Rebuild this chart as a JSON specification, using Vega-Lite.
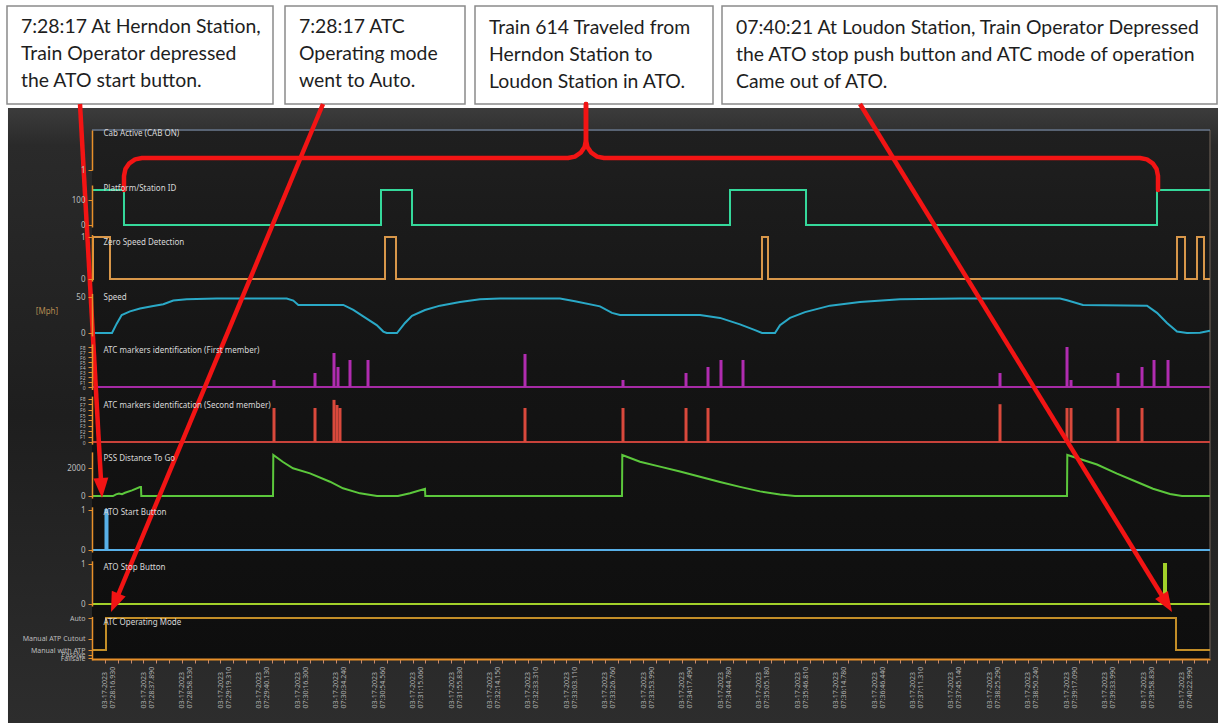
{
  "$schema": "https://vega.github.io/schema/vega-lite/v6.json",
  "width": 1222,
  "height": 723,
  "autosize": "none",
  "padding": 0,
  "background": "#ffffff",
  "config": {
    "view": {"stroke": null},
    "font": "Noto Sans",
    "axis": {
      "domainColor": "#e8902a", "domainWidth": 1.5, "tickColor": "#e8902a", "tickSize": 4, "tickWidth": 1,
      "labelColor": "#bdbdbd", "labelFont": "Noto Sans", "labelFontSize": 8, "labelPadding": 3,
      "labelOverlap": false, "labelFlush": false, "labelBound": false, "grid": false,
      "titleColor": "#d8d8d8", "titleFont": "Noto Sans", "titleFontSize": 8, "titleFontWeight": "normal",
      "titleAngle": 0, "titleAlign": "left", "titleBaseline": "middle"
    }
  },
  "datasets": {
    "panes": [
      {"pane": "outer", "t": -7.569, "t2": 86.838, "p": 108, "p2": 723},
      {"pane": "plot", "t": -1.014, "t2": 86.213, "p": 129, "p2": 660},
      {"pane": "frame", "t": 86.213, "t2": 86.213, "p": 130, "p2": 658}
    ],
    "units": [{"t": -4.525, "p": 312, "unit": "[Mph]"}],
    "sig": [
      {"s": "cab", "t": -1.014, "v": 1}, {"s": "cab", "t": 86.213, "v": 1},
      {"s": "plat", "t": -1.014, "v": 140}, {"s": "plat", "t": 1.482, "v": 0}, {"s": "plat", "t": 21.534, "v": 140}, {"s": "plat", "t": 23.953, "v": 0},
      {"s": "plat", "t": 48.763, "v": 140}, {"s": "plat", "t": 54.693, "v": 0}, {"s": "plat", "t": 82.078, "v": 140}, {"s": "plat", "t": 86.213, "v": 140},
      {"s": "zsd", "t": -1.014, "v": 0}, {"s": "zsd", "t": -0.936, "v": 1}, {"s": "zsd", "t": 0.39, "v": 0}, {"s": "zsd", "t": 21.846, "v": 1},
      {"s": "zsd", "t": 22.704, "v": 0}, {"s": "zsd", "t": 51.26, "v": 1}, {"s": "zsd", "t": 51.728, "v": 0}, {"s": "zsd", "t": 83.639, "v": 1},
      {"s": "zsd", "t": 84.263, "v": 0}, {"s": "zsd", "t": 85.199, "v": 1}, {"s": "zsd", "t": 85.745, "v": 0}, {"s": "zsd", "t": 86.213, "v": 0},
      {"s": "speed", "t": -1.014, "v": 0}, {"s": "speed", "t": 0.546, "v": 0}, {"s": "speed", "t": 0.913, "v": 13}, {"s": "speed", "t": 1.303, "v": 25},
      {"s": "speed", "t": 1.951, "v": 30}, {"s": "speed", "t": 2.731, "v": 34}, {"s": "speed", "t": 3.768, "v": 37.5}, {"s": "speed", "t": 4.549, "v": 40},
      {"s": "speed", "t": 5.329, "v": 45}, {"s": "speed", "t": 6.374, "v": 47}, {"s": "speed", "t": 8.715, "v": 48}, {"s": "speed", "t": 14.177, "v": 48},
      {"s": "speed", "t": 14.692, "v": 45}, {"s": "speed", "t": 15.082, "v": 39}, {"s": "speed", "t": 18.593, "v": 39}, {"s": "speed", "t": 19.373, "v": 32},
      {"s": "speed", "t": 20.418, "v": 20}, {"s": "speed", "t": 21.198, "v": 11}, {"s": "speed", "t": 21.713, "v": 2}, {"s": "speed", "t": 21.979, "v": 0},
      {"s": "speed", "t": 22.782, "v": 0}, {"s": "speed", "t": 23.406, "v": 14}, {"s": "speed", "t": 23.953, "v": 24}, {"s": "speed", "t": 24.967, "v": 32},
      {"s": "speed", "t": 26.137, "v": 38}, {"s": "speed", "t": 27.698, "v": 43}, {"s": "speed", "t": 29.258, "v": 47}, {"s": "speed", "t": 30.818, "v": 48},
      {"s": "speed", "t": 35.5, "v": 48}, {"s": "speed", "t": 36.67, "v": 44}, {"s": "speed", "t": 38.62, "v": 37}, {"s": "speed", "t": 39.557, "v": 28},
      {"s": "speed", "t": 40.181, "v": 25}, {"s": "speed", "t": 46.423, "v": 25}, {"s": "speed", "t": 47.984, "v": 21}, {"s": "speed", "t": 49.544, "v": 12},
      {"s": "speed", "t": 50.714, "v": 4}, {"s": "speed", "t": 51.26, "v": 0}, {"s": "speed", "t": 52.274, "v": 0}, {"s": "speed", "t": 52.664, "v": 11},
      {"s": "speed", "t": 53.445, "v": 21}, {"s": "speed", "t": 54.615, "v": 29}, {"s": "speed", "t": 56.565, "v": 38}, {"s": "speed", "t": 58.906, "v": 43},
      {"s": "speed", "t": 62.027, "v": 47}, {"s": "speed", "t": 66.708, "v": 48}, {"s": "speed", "t": 74.511, "v": 48}, {"s": "speed", "t": 75.057, "v": 45.5},
      {"s": "speed", "t": 76.305, "v": 39}, {"s": "speed", "t": 81.298, "v": 38}, {"s": "speed", "t": 82.078, "v": 28}, {"s": "speed", "t": 82.859, "v": 14},
      {"s": "speed", "t": 83.639, "v": 2}, {"s": "speed", "t": 84.419, "v": 0}, {"s": "speed", "t": 85.433, "v": 0.5}, {"s": "speed", "t": 86.213, "v": 3},
      {"s": "atc1", "t": -1.014, "v": 0}, {"s": "atc1", "t": 86.213, "v": 0},
      {"s": "atc2", "t": -1.014, "v": 0}, {"s": "atc2", "t": 86.213, "v": 0},
      {"s": "pss", "t": -1.014, "v": 0}, {"s": "pss", "t": 0.624, "v": 0}, {"s": "pss", "t": 0.858, "v": 120}, {"s": "pss", "t": 1.092, "v": 180},
      {"s": "pss", "t": 1.326, "v": 130}, {"s": "pss", "t": 1.56, "v": 230}, {"s": "pss", "t": 2.107, "v": 400}, {"s": "pss", "t": 2.731, "v": 640},
      {"s": "pss", "t": 2.809, "v": 640}, {"s": "pss", "t": 2.832, "v": 0}, {"s": "pss", "t": 13.108, "v": 0}, {"s": "pss", "t": 13.132, "v": 2930},
      {"s": "pss", "t": 13.888, "v": 2430}, {"s": "pss", "t": 14.668, "v": 1980}, {"s": "pss", "t": 15.994, "v": 1620}, {"s": "pss", "t": 17.555, "v": 1020},
      {"s": "pss", "t": 18.569, "v": 550}, {"s": "pss", "t": 19.896, "v": 190}, {"s": "pss", "t": 21.222, "v": 0}, {"s": "pss", "t": 22.86, "v": 0},
      {"s": "pss", "t": 23.796, "v": 200}, {"s": "pss", "t": 24.967, "v": 520}, {"s": "pss", "t": 24.99, "v": 0}, {"s": "pss", "t": 40.337, "v": 0},
      {"s": "pss", "t": 40.36, "v": 2930}, {"s": "pss", "t": 41.741, "v": 2450}, {"s": "pss", "t": 43.302, "v": 2100}, {"s": "pss", "t": 44.862, "v": 1750},
      {"s": "pss", "t": 46.423, "v": 1380}, {"s": "pss", "t": 47.984, "v": 1000}, {"s": "pss", "t": 49.544, "v": 650}, {"s": "pss", "t": 51.104, "v": 330},
      {"s": "pss", "t": 52.664, "v": 100}, {"s": "pss", "t": 53.835, "v": 0}, {"s": "pss", "t": 75.057, "v": 0}, {"s": "pss", "t": 75.08, "v": 2930},
      {"s": "pss", "t": 76.305, "v": 2570}, {"s": "pss", "t": 77.398, "v": 2250}, {"s": "pss", "t": 78.958, "v": 1600}, {"s": "pss", "t": 80.518, "v": 1000},
      {"s": "pss", "t": 81.767, "v": 520}, {"s": "pss", "t": 83.093, "v": 140}, {"s": "pss", "t": 84.029, "v": 0}, {"s": "pss", "t": 86.213, "v": 0},
      {"s": "start", "t": -1.014, "v": 0}, {"s": "start", "t": 0.039, "v": 1}, {"s": "start", "t": 0.195, "v": 0}, {"s": "start", "t": 86.213, "v": 0},
      {"s": "stop", "t": -1.014, "v": 0}, {"s": "stop", "t": 82.625, "v": 1}, {"s": "stop", "t": 82.781, "v": 0}, {"s": "stop", "t": 86.213, "v": 0},
      {"s": "mode", "t": -1.014, "v": 1}, {"s": "mode", "t": 0.078, "v": 5}, {"s": "mode", "t": 83.561, "v": 1}, {"s": "mode", "t": 86.213, "v": 1}
    ],
    "markers": [
      {"m": "first", "t": 13.186, "v": 1.4, "base": 0}, {"m": "first", "t": 16.385, "v": 2.8, "base": 0}, {"m": "first", "t": 17.867, "v": 6.8, "base": 0},
      {"m": "first", "t": 18.179, "v": 4, "base": 0}, {"m": "first", "t": 19.115, "v": 5.4, "base": 0}, {"m": "first", "t": 20.52, "v": 5.4, "base": 0},
      {"m": "first", "t": 32.769, "v": 6.6, "base": 0}, {"m": "first", "t": 40.415, "v": 1.4, "base": 0}, {"m": "first", "t": 45.331, "v": 2.8, "base": 0},
      {"m": "first", "t": 47.047, "v": 4, "base": 0}, {"m": "first", "t": 48.061, "v": 5.4, "base": 0}, {"m": "first", "t": 49.778, "v": 5.4, "base": 0},
      {"m": "first", "t": 69.829, "v": 2.8, "base": 0}, {"m": "first", "t": 75.057, "v": 8, "base": 0}, {"m": "first", "t": 75.369, "v": 1.4, "base": 0},
      {"m": "first", "t": 79.036, "v": 2.8, "base": 0}, {"m": "first", "t": 80.909, "v": 4, "base": 0}, {"m": "first", "t": 81.845, "v": 5.4, "base": 0},
      {"m": "first", "t": 82.937, "v": 5.4, "base": 0},
      {"m": "second", "t": 13.186, "v": 6.3, "base": 0}, {"m": "second", "t": 16.385, "v": 6.3, "base": 0}, {"m": "second", "t": 17.867, "v": 7.8, "base": 0},
      {"m": "second", "t": 18.101, "v": 6.85, "base": 0}, {"m": "second", "t": 18.335, "v": 6.3, "base": 0}, {"m": "second", "t": 32.769, "v": 6.3, "base": 0},
      {"m": "second", "t": 40.415, "v": 6.3, "base": 0}, {"m": "second", "t": 45.331, "v": 6.3, "base": 0}, {"m": "second", "t": 47.047, "v": 6.3, "base": 0},
      {"m": "second", "t": 69.829, "v": 7.0, "base": 0}, {"m": "second", "t": 75.057, "v": 6.3, "base": 0}, {"m": "second", "t": 75.369, "v": 6.3, "base": 0},
      {"m": "second", "t": 79.036, "v": 6.3, "base": 0}, {"m": "second", "t": 80.909, "v": 6.3, "base": 0}
    ],
    "notes": [
      {"t": -7.646, "t2": 13.108, "top": 6, "bottom": 104, "first": 27, "note": "7:28:17 At Herndon Station,\nTrain Operator depressed\nthe ATO start button."},
      {"t": 14.044, "t2": 28.088, "top": 6, "bottom": 104, "first": 27, "note": "7:28:17 ATC\nOperating mode\nwent to Auto."},
      {"t": 28.868, "t2": 47.437, "top": 6, "bottom": 104, "first": 28, "note": "Train 614 Traveled from\nHerndon Station to\nLoudon Station in ATO."},
      {"t": 48.139, "t2": 86.76, "top": 6, "bottom": 104, "first": 28, "note": "07:40:21 At Loudon Station, Train Operator Depressed\nthe ATO stop push button and ATC mode of operation\nCame out of ATO."}
    ],
    "arrows": [
      {"t": -1.95, "p": 104, "t2": -0.289, "p2": 486},
      {"t": 17.009, "p": 104, "t2": 0.828, "p2": 601},
      {"t": 58.906, "p": 104, "t2": 82.757, "p2": 601.8}
    ],
    "heads": [
      {"t": -0.234, "p": 498, "ang": -3.2},
      {"t": 0.468, "p": 612, "ang": 22.7},
      {"t": 83.249, "p": 612, "ang": -31.6}
    ],
    "brace": [
      {"side": "L", "i": 0, "t": 1.482, "p": 190}, {"side": "L", "i": 1, "t": 1.482, "p": 176}, {"side": "L", "i": 2, "t": 1.592, "p": 169.1},
      {"side": "L", "i": 3, "t": 1.896, "p": 163.3}, {"side": "L", "i": 4, "t": 2.348, "p": 159.4}, {"side": "L", "i": 5, "t": 2.887, "p": 158},
      {"side": "L", "i": 6, "t": 36.124, "p": 158}, {"side": "L", "i": 7, "t": 36.662, "p": 156.6}, {"side": "L", "i": 8, "t": 37.115, "p": 152.7},
      {"side": "L", "i": 9, "t": 37.419, "p": 146.9}, {"side": "L", "i": 10, "t": 37.528, "p": 140}, {"side": "L", "i": 11, "t": 37.528, "p": 104},
      {"side": "R", "i": 0, "t": 37.528, "p": 104}, {"side": "R", "i": 1, "t": 37.528, "p": 140}, {"side": "R", "i": 2, "t": 37.638, "p": 146.9},
      {"side": "R", "i": 3, "t": 37.942, "p": 152.7}, {"side": "R", "i": 4, "t": 38.394, "p": 156.6}, {"side": "R", "i": 5, "t": 38.933, "p": 158},
      {"side": "R", "i": 6, "t": 80.753, "p": 158}, {"side": "R", "i": 7, "t": 81.291, "p": 159.4}, {"side": "R", "i": 8, "t": 81.744, "p": 163.3},
      {"side": "R", "i": 9, "t": 82.048, "p": 169.1}, {"side": "R", "i": 10, "t": 82.157, "p": 176}, {"side": "R", "i": 11, "t": 82.157, "p": 190}
    ]
  },
  "encoding": {
    "x": {
      "field": "t", "type": "quantitative",
      "scale": {"domain": [-1.014, 86.213], "range": [92, 1210], "nice": false, "zero": false},
      "axis": {
        "zindex": 2, "orient": "bottom", "offset": -64, "title": null,
        "values": [0,1,2,3,4,5,6,7,8,9,10,11,12,13,14,15,16,17,18,19,20,21,22,23,24,25,26,27,28,29,30,31,32,33,34,35,36,37,38,39,40,41,42,43,44,45,46,47,48,49,50,51,52,53,54,55,56,57,58,59,60,61,62,63,64,65,66,67,68,69,70,71,72,73,74,75,76,77,78,79,80,81,82,83,84,85,86],
        "labelExpr": "datum.value % 3 == 0 ? ['03-17-2023', ['07:28:16.930','07:28:37.890','07:28:58.530','07:29:19.310','07:29:40.130','07:30:16.300','07:30:34.240','07:30:54.560','07:31:15.060','07:31:55.830','07:32:14.150','07:32:33.310','07:33:03.110','07:33:26.760','07:33:53.990','07:34:17.490','07:34:44.780','07:35:05.180','07:35:46.810','07:36:14.780','07:36:46.440','07:37:11.310','07:37:45.140','07:38:25.290','07:38:50.240','07:39:17.090','07:39:33.990','07:39:58.830','07:40:22.990'][datum.value / 3]] : ''",
        "labelAngle": 270, "labelAlign": "left", "labelBaseline": "middle", "labelPadding": 45, "labelFontSize": 7, "labelLineHeight": 8,
        "labelColor": "#b0b0b0", "domainWidth": 2, "tickColor": "#c98a6c", "tickSize": 4
      }
    }
  },
  "layer": [
    {
      "data": {"name": "panes"},
      "transform": [{"filter": "datum.pane == 'outer'"}],
      "mark": {"type": "rect", "fill": {"gradient": "linear", "x1": 0, "y1": 0, "x2": 0, "y2": 1, "stops": [{"offset": 0, "color": "#3c3c3c"}, {"offset": 0.06, "color": "#2a2a2a"}, {"offset": 0.5, "color": "#1e1e1e"}, {"offset": 1, "color": "#2d2d2d"}]}},
      "encoding": {
        "x2": {"field": "t2"},
        "y": {"field": "p", "type": "quantitative", "scale": {"domain": [0, 723], "range": [0, 723], "nice": false, "zero": false}, "axis": null},
        "y2": {"field": "p2"}
      }
    },
    {
      "data": {"name": "panes"},
      "transform": [{"filter": "datum.pane == 'plot'"}],
      "mark": {"type": "rect", "fill": {"gradient": "linear", "x1": 0, "y1": 0, "x2": 0, "y2": 1, "stops": [{"offset": 0, "color": "#1f1f1f"}, {"offset": 0.45, "color": "#141414"}, {"offset": 1, "color": "#0e0e0e"}]}},
      "encoding": {
        "x2": {"field": "t2"},
        "y": {"field": "p", "type": "quantitative", "scale": {"domain": [0, 723], "range": [0, 723], "nice": false, "zero": false}, "axis": null},
        "y2": {"field": "p2"}
      }
    },
    {
      "data": {"name": "panes"},
      "transform": [{"filter": "datum.pane == 'frame'"}],
      "mark": {"type": "rule", "color": "#5a5048", "strokeWidth": 1.5},
      "encoding": {
        "x2": {"field": "t2"},
        "y": {"field": "p", "type": "quantitative", "scale": {"domain": [0, 723], "range": [0, 723], "nice": false, "zero": false}, "axis": null},
        "y2": {"field": "p2"}
      }
    },
    {
      "data": {"name": "notes"},
      "mark": {"type": "rect", "fill": "#ffffff", "stroke": "#8a8a8a", "strokeWidth": 1.5},
      "encoding": {
        "x2": {"field": "t2"},
        "y": {"field": "top", "type": "quantitative", "scale": {"domain": [0, 723], "range": [0, 723], "nice": false, "zero": false}, "axis": null},
        "y2": {"field": "bottom"}
      }
    },
    {
      "data": {"name": "notes"},
      "mark": {"type": "text", "lineBreak": "\n", "align": "left", "baseline": "middle", "dx": 14, "font": "Lato", "fontSize": 19.4, "lineHeight": 27, "color": "#1e1e1e"},
      "encoding": {
        "y": {"field": "first", "type": "quantitative", "scale": {"domain": [0, 723], "range": [0, 723], "nice": false, "zero": false}, "axis": null},
        "text": {"field": "note", "type": "nominal"}
      }
    },
    {
      "data": {"name": "sig"},
      "transform": [{"filter": "datum.s == 'cab'"}],
      "mark": {"type": "line", "interpolate": "step-after", "color": "#6c7b90", "strokeWidth": 1.5},
      "encoding": {
        "y": {"field": "v", "type": "quantitative", "scale": {"domain": [0, 1], "range": [170, 130], "nice": false, "zero": false},
              "axis": {"zindex": 2, "orient": "left", "offset": -92, "values": [1], "format": "d", "tickOffset": 40, "title": "Cab Active (CAB ON)", "titleX": 11, "titleY": 133}}
      }
    },
    {
      "data": {"name": "sig"},
      "transform": [{"filter": "datum.s == 'plat'"}],
      "mark": {"type": "line", "interpolate": "step-after", "color": "#35d89b", "strokeWidth": 2},
      "encoding": {
        "y": {"field": "v", "type": "quantitative", "scale": {"domain": [-8, 160], "range": [227, 185], "nice": false, "zero": false},
              "axis": {"zindex": 2, "orient": "left", "offset": -92, "values": [0, 100], "format": "d", "title": "Platform/Station ID", "titleX": 11, "titleY": 188}}
      }
    },
    {
      "data": {"name": "sig"},
      "transform": [{"filter": "datum.s == 'zsd'"}],
      "mark": {"type": "line", "interpolate": "step-after", "color": "#d8974a", "strokeWidth": 2},
      "encoding": {
        "y": {"field": "v", "type": "quantitative", "scale": {"domain": [-0.05, 1.06], "range": [281.1, 234.5], "nice": false, "zero": false},
              "axis": {"zindex": 2, "orient": "left", "offset": -92, "values": [0, 1], "format": "d", "title": "Zero Speed Detection", "titleX": 11, "titleY": 242}}
      }
    },
    {
      "data": {"name": "sig"},
      "transform": [{"filter": "datum.s == 'speed'"}],
      "mark": {"type": "line", "color": "#2aa9c7", "strokeWidth": 2},
      "encoding": {
        "y": {"field": "v", "type": "quantitative", "scale": {"domain": [-4, 55], "range": [335.9, 293.4], "nice": false, "zero": false},
              "axis": {"zindex": 2, "orient": "left", "offset": -92, "values": [0, 50], "format": "d", "title": "Speed", "titleX": 11, "titleY": 297}}
      }
    },
    {
      "data": {"name": "units"},
      "mark": {"type": "text", "align": "center", "baseline": "middle", "fontSize": 8, "color": "#b48a52"},
      "encoding": {
        "y": {"field": "p", "type": "quantitative", "scale": {"domain": [0, 723], "range": [0, 723], "nice": false, "zero": false}, "axis": null},
        "text": {"field": "unit", "type": "nominal"}
      }
    },
    {
      "data": {"name": "sig"},
      "transform": [{"filter": "datum.s == 'atc1'"}],
      "mark": {"type": "line", "color": "#a52aa5", "strokeWidth": 2},
      "encoding": {
        "y": {"field": "v", "type": "quantitative", "scale": {"domain": [-0.5, 8.6], "range": [389.5, 344], "nice": false, "zero": false}, "axis": null}
      }
    },
    {
      "data": {"name": "markers"},
      "transform": [{"filter": "datum.m == 'first'"}],
      "mark": {"type": "rule", "color": "#b02cb0", "strokeWidth": 3},
      "encoding": {
        "y": {"field": "v", "type": "quantitative", "scale": {"domain": [-0.5, 8.6], "range": [389.5, 344], "nice": false, "zero": false},
              "axis": {"zindex": 2, "orient": "left", "offset": -92, "values": [0, 1, 2, 3, 4, 5, 6, 7, 8], "labelFontSize": 5, "labelExpr": "datum.value == 0 ? '0' : 'F' + datum.value", "title": "ATC markers identification (First member)", "titleX": 11, "titleY": 350}},
        "y2": {"field": "base"}
      }
    },
    {
      "data": {"name": "sig"},
      "transform": [{"filter": "datum.s == 'atc2'"}],
      "mark": {"type": "line", "color": "#c8423a", "strokeWidth": 2},
      "encoding": {
        "y": {"field": "v", "type": "quantitative", "scale": {"domain": [-0.4, 8.5], "range": [444.16, 396.1], "nice": false, "zero": false}, "axis": null}
      }
    },
    {
      "data": {"name": "markers"},
      "transform": [{"filter": "datum.m == 'second'"}],
      "mark": {"type": "rule", "color": "#d9493c", "strokeWidth": 3},
      "encoding": {
        "y": {"field": "v", "type": "quantitative", "scale": {"domain": [-0.4, 8.5], "range": [444.16, 396.1], "nice": false, "zero": false},
              "axis": {"zindex": 2, "orient": "left", "offset": -92, "values": [0, 1, 2, 3, 4, 5, 6, 7, 8], "labelFontSize": 5, "labelExpr": "datum.value == 0 ? '0' : 'F' + datum.value", "title": "ATC markers identification (Second member)", "titleX": 11, "titleY": 405}},
        "y2": {"field": "base"}
      }
    },
    {
      "data": {"name": "sig"},
      "transform": [{"filter": "datum.s == 'pss'"}],
      "mark": {"type": "line", "color": "#5cc83c", "strokeWidth": 2},
      "encoding": {
        "y": {"field": "v", "type": "quantitative", "scale": {"domain": [-150, 3150], "range": [498.1, 451.9], "nice": false, "zero": false},
              "axis": {"zindex": 2, "orient": "left", "offset": -92, "values": [0, 2000], "format": "d", "title": "PSS Distance To Go", "titleX": 11, "titleY": 458}}
      }
    },
    {
      "data": {"name": "sig"},
      "transform": [{"filter": "datum.s == 'start'"}],
      "mark": {"type": "line", "interpolate": "step-after", "color": "#58b0e8", "strokeWidth": 2},
      "encoding": {
        "y": {"field": "v", "type": "quantitative", "scale": {"domain": [-0.05, 1.08], "range": [552, 506.8], "nice": false, "zero": false},
              "axis": {"zindex": 2, "orient": "left", "offset": -92, "values": [0, 1], "format": "d", "title": "ATO Start Button", "titleX": 11, "titleY": 512}}
      }
    },
    {
      "data": {"name": "sig"},
      "transform": [{"filter": "datum.s == 'stop'"}],
      "mark": {"type": "line", "interpolate": "step-after", "color": "#a2d12a", "strokeWidth": 2},
      "encoding": {
        "y": {"field": "v", "type": "quantitative", "scale": {"domain": [-0.05, 1.08], "range": [606, 560.8], "nice": false, "zero": false},
              "axis": {"zindex": 2, "orient": "left", "offset": -92, "values": [0, 1], "format": "d", "title": "ATO Stop Button", "titleX": 11, "titleY": 567}}
      }
    },
    {
      "data": {"name": "sig"},
      "transform": [{"filter": "datum.s == 'mode'"}],
      "mark": {"type": "line", "interpolate": "step-after", "color": "#c38e28", "strokeWidth": 2},
      "encoding": {
        "y": {"field": "v", "type": "quantitative", "scale": {"domain": [-0.25, 5.2], "range": [660, 616.4], "nice": false, "zero": false},
              "axis": {"zindex": 2, "orient": "left", "offset": -92, "values": [0, 0.4, 1, 2.4, 5], "labelExpr": "datum.value == 5 ? 'Auto' : datum.value == 2.4 ? 'Manual ATP Cutout' : datum.value == 1 ? 'Manual with ATP' : datum.value == 0.4 ? 'Passive' : 'Failsafe'", "labelFontSize": 7, "title": "ATC Operating Mode", "titleX": 11, "titleY": 622}}
      }
    },
    {
      "data": {"name": "arrows"},
      "mark": {"type": "rule", "color": "#f21414", "strokeWidth": 4.5, "zindex": 3},
      "encoding": {
        "x2": {"field": "t2"},
        "y": {"field": "p", "type": "quantitative", "scale": {"domain": [0, 723], "range": [0, 723], "nice": false, "zero": false}, "axis": null},
        "y2": {"field": "p2"}
      }
    },
    {
      "data": {"name": "heads"},
      "mark": {"type": "point", "shape": "M0,0L-0.75,-2L0.75,-2Z", "filled": true, "size": 400, "color": "#f21414", "opacity": 1, "strokeWidth": 0, "zindex": 3},
      "encoding": {
        "y": {"field": "p", "type": "quantitative", "scale": {"domain": [0, 723], "range": [0, 723], "nice": false, "zero": false}, "axis": null},
        "angle": {"field": "ang", "type": "quantitative", "scale": null}
      }
    },
    {
      "data": {"name": "brace"},
      "mark": {"type": "line", "color": "#f21414", "strokeWidth": 4.5, "strokeCap": "round", "strokeJoin": "round", "zindex": 3},
      "encoding": {
        "y": {"field": "p", "type": "quantitative", "scale": {"domain": [0, 723], "range": [0, 723], "nice": false, "zero": false}, "axis": null},
        "detail": {"field": "side", "type": "nominal"},
        "order": {"field": "i", "type": "quantitative"}
      }
    }
  ],
  "resolve": {"scale": {"y": "independent"}}
}
